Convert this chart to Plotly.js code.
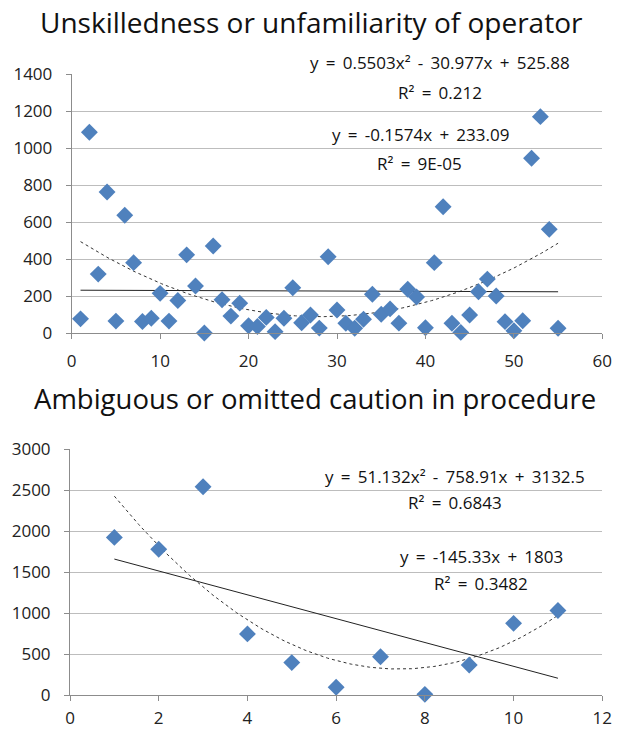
<!DOCTYPE html>
<html>
<head>
<meta charset="utf-8">
<script src="https://cdn.plot.ly/plotly-3.0.1.min.js"></script>
<style>html,body{margin:0;padding:0;background:#fff;}#chart{width:622px;height:731px;}</style>
</head>
<body>
<div id="chart"></div>
<script>
// Top chart: Unskilledness or unfamiliarity of operator
const topTitle = "Unskilledness or unfamiliarity of operator";
const topX = [1,2,3,4,5,6,7,8,9,10,11,12,13,14,15,16,17,18,19,20,21,22,23,24,25,26,27,28,29,30,31,32,33,34,35,36,37,38,39,40,41,42,43,44,45,46,47,48,49,50,51,52,53,54,55];
const topY = [78,1087,320,764,66,638,382,64,81,216,66,177,424,256,2,472,181,93,163,41,37,86,9,81,246,57,99,28,414,126,54,27,76,211,103,132,55,238,196,30,382,684,54,5,99,225,293,202,63,14,68,946,1171,562,27];
const topPoly = [0.5503, -30.977, 525.88];   // a, b, c
const topLin = [-0.1574, 233.09];            // m, k
const topPolyLabel = ["y = 0.5503x\u00b2 - 30.977x + 525.88", "R\u00b2 = 0.212"];
const topLinLabel = ["y = -0.1574x + 233.09", "R\u00b2 = 9E-05"];

// Bottom chart: Ambiguous or omitted caution in procedure
const botTitle = "Ambiguous or omitted caution in procedure";
const botX = [1,2,3,4,5,6,7,8,9,10,11];
const botY = [1922,1778,2540,745,395,95,467,8,366,874,1030];
const botPoly = [51.132, -758.91, 3132.5];
const botLin = [-145.33, 1803];
const botPolyLabel = ["y = 51.132x\u00b2 - 758.91x + 3132.5", "R\u00b2 = 0.6843"];
const botLinLabel = ["y = -145.33x + 1803", "R\u00b2 = 0.3482"];

function curve(coef, x0, x1, n) {
  const xs = [], ys = [];
  for (let i = 0; i <= n; i++) {
    const x = x0 + (x1 - x0) * i / n;
    xs.push(x);
    ys.push(coef.length === 3 ? coef[0]*x*x + coef[1]*x + coef[2] : coef[0]*x + coef[1]);
  }
  return {xs, ys};
}
const wide = s => s.split(' ').join(' \u2009');

const blue = "#4F81BD";
const font = "Open Sans, 'Noto Sans', sans-serif";
const tp = curve(topPoly, topX[0], topX[topX.length-1], 200);
const tl = curve(topLin, topX[0], topX[topX.length-1], 2);
const bp = curve(botPoly, botX[0], botX[botX.length-1], 200);
const bl = curve(botLin, botX[0], botX[botX.length-1], 2);

const traces = [
  {x: tp.xs, y: tp.ys, xaxis: 'x', yaxis: 'y', mode: 'lines', line: {color: '#333', width: 1, dash: 'dot'}, hoverinfo: 'skip'},
  {x: tl.xs, y: tl.ys, xaxis: 'x', yaxis: 'y', mode: 'lines', line: {color: '#222', width: 1}, hoverinfo: 'skip'},
  {x: topX, y: topY, xaxis: 'x', yaxis: 'y', mode: 'markers', type: 'scatter', cliponaxis: false,
   marker: {symbol: 'diamond', size: 13, color: blue}},
  {x: bp.xs, y: bp.ys, xaxis: 'x2', yaxis: 'y2', mode: 'lines', line: {color: '#333', width: 1, dash: 'dot'}, hoverinfo: 'skip'},
  {x: bl.xs, y: bl.ys, xaxis: 'x2', yaxis: 'y2', mode: 'lines', line: {color: '#222', width: 1}, hoverinfo: 'skip'},
  {x: botX, y: botY, xaxis: 'x2', yaxis: 'y2', mode: 'markers', type: 'scatter', cliponaxis: false,
   marker: {symbol: 'diamond', size: 13, color: blue}}
];

const axBase = {
  showgrid: false, zeroline: false, showline: true, linecolor: '#8c8c8c', linewidth: 1,
  ticks: 'outside', ticklen: 5, tickcolor: '#8c8c8c', tickfont: {family: font, size: 17, color: '#222'},
  ticklabelstandoff: 7, fixedrange: true
};
const yBase = Object.assign({}, axBase, {showgrid: true, gridcolor: '#bdbdbd', gridwidth: 1, ticklabelstandoff: 10});

const ann = (x, y, t, size) => ({xref: 'paper', yref: 'paper', x: x/622, y: 1 - y/731, text: t, showarrow: false,
  xanchor: 'center', yanchor: 'middle', font: {family: font, size: size, color: '#111'}});

const layout = {
  width: 622, height: 731, autosize: false, showlegend: false,
  margin: {l: 0, r: 0, t: 0, b: 0}, paper_bgcolor: '#fff', plot_bgcolor: '#fff',
  xaxis: Object.assign({}, axBase, {domain: [71.7/622, 602.3/622], range: [0, 60], dtick: 10, anchor: 'y'}),
  yaxis: Object.assign({}, yBase, {domain: [1-333.3/731, 1-74.3/731], range: [0, 1400], dtick: 200, anchor: 'x'}),
  xaxis2: Object.assign({}, axBase, {domain: [70/622, 602.3/622], range: [0, 12], dtick: 2, anchor: 'y2', ticklabelstandoff: 3}),
  yaxis2: Object.assign({}, yBase, {domain: [1-695/731, 1-449/731], range: [0, 3000], dtick: 500, anchor: 'x2'}),
  annotations: [
    ann(311, 22, topTitle, 28),
    ann(315, 399, botTitle, 27.5),
    ann(440, 62, wide(topPolyLabel[0]), 17),
    ann(440, 92, wide(topPolyLabel[1]), 17),
    ann(420, 134, wide(topLinLabel[0]), 17),
    ann(419, 164, wide(topLinLabel[1]), 17),
    ann(455, 476, wide(botPolyLabel[0]), 17),
    ann(455, 503, wide(botPolyLabel[1]), 17),
    ann(481, 556, wide(botLinLabel[0]), 17),
    ann(481, 583, wide(botLinLabel[1]), 17)
  ]
};

Plotly.newPlot('chart', traces, layout, {staticPlot: true, displayModeBar: false});
</script>
</body>
</html>
